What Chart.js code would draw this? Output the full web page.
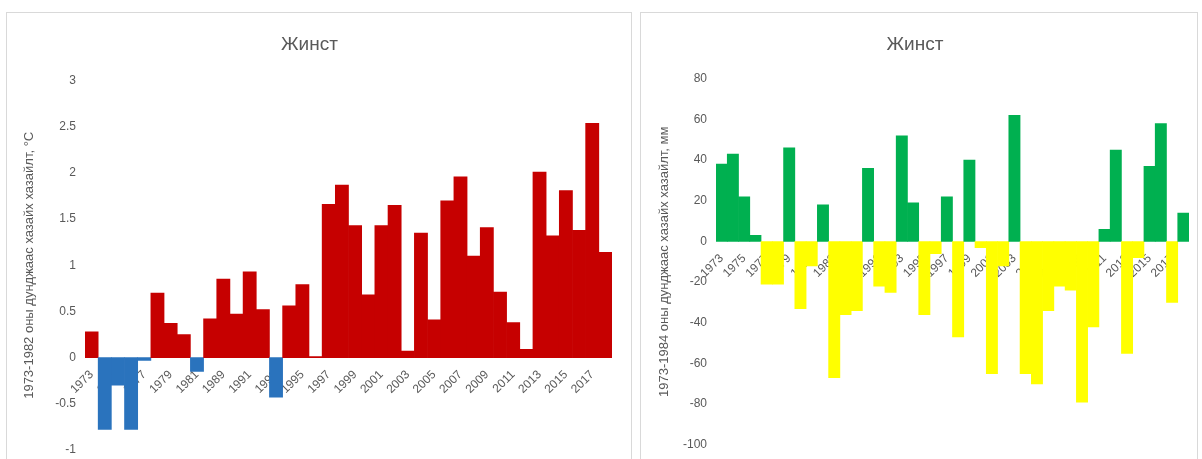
<!DOCTYPE html>
<html>
<head>
<meta charset="utf-8">
<script src="https://cdn.jsdelivr.net/npm/chart.js@4"></script>
<style>
  body { margin: 0; background: #fff; width: 1202px; height: 459px; overflow: hidden; position: relative; }
  .panel { position: absolute; border: 1px solid #d9d9d9; background: #fff; overflow: hidden; }
  #p1 { left: 6px; top: 12px; width: 624px; height: 460px; }
  #p2 { left: 640px; top: 12px; width: 556px; height: 460px; }
  canvas { position: absolute; left: 0; top: 0; }
</style>
</head>
<body>
<div class="panel" id="p1"><canvas id="tempChart" width="624" height="453"></canvas></div>
<div class="panel" id="p2"><canvas id="precChart" width="556" height="448"></canvas></div>
<script>
// temperature deviation from 1973-1982 mean, °C
const tempYears = ['1973','1974','1975','1976','1977','1978','1979','1980','1981','1982',
  '1989','1990','1991','1992','1993','1994','1995','1996','1997','1998','1999','2000',
  '2001','2002','2003','2004','2005','2006','2007','2008','2009','2010','2011','2012',
  '2013','2014','2015','2016','2017','2018']
const tempDev = [0.28, -0.78, -0.3, -0.78, -0.03, 0.7, 0.37, 0.25, -0.15, 0.42,
  0.85, 0.47, 0.93, 0.52, -0.43, 0.56, 0.79, 0.01, 1.66, 1.87, 1.43, 0.68,
  1.43, 1.65, 0.07, 1.35, 0.41, 1.7, 1.96, 1.1, 1.41, 0.71, 0.38, 0.09,
  2.01, 1.32, 1.81, 1.38, 2.54, 1.14]
const tempTicks = [-1, -0.5, 0, 0.5, 1, 1.5, 2, 2.5, 3]

// precipitation deviation from 1973-1984 mean, mm
const precYears = ['1973','1974','1975','1976','1977','1978','1979','1980','1981','1982','1983','1984',
  '1989','1990','1991','1992','1993','1994','1995','1996','1997','1998','1999','2000',
  '2001','2002','2003','2004','2005','2006','2007','2008','2009','2010','2011','2012',
  '2013','2014','2015','2016','2017','2018']
const precDev = [38, 43, 22, 3, -21, -21, 46, -33, -12, 18, -67, -36,
  -34, 36, -22, -25, 52, 19, -36, -6, 22, -47, 40, -3,
  -65, -12, 62, -65, -70, -34, -22, -24, -79, -42, 6, 45,
  -55, -8, 37, 58, -30, 14]
const precTicks = [-100, -80, -60, -40, -20, 0, 20, 40, 60, 80]

const grey = '#595959'
const fontFam = '"Liberation Sans", Arial, sans-serif'

const makeChart = (id, years, values, ticks, posColor, negColor, axisTitle, yWidth, pad, titlePad, axisPad) => {
  const ctx = document.getElementById(id).getContext('2d')
  return new Chart(ctx, {
    type: 'bar',
    data: {
      labels: years,
      datasets: [{
        data: values,
        backgroundColor: values.map(v => v >= 0 ? posColor : negColor),
        borderWidth: 0,
        barPercentage: 1,
        categoryPercentage: 1
      }]
    },
    options: {
      responsive: false,
      animation: false,
      layout: { padding: pad },
      plugins: {
        legend: { display: false },
        tooltip: { enabled: false },
        title: {
          display: true,
          text: 'Жинст',
          color: grey,
          font: { family: fontFam, size: 19, weight: 'normal' },
          padding: titlePad
        }
      },
      scales: {
        x: {
          position: { y: 0 },
          offset: true,
          grid: { display: false },
          border: { display: false },
          ticks: {
            autoSkip: false,
            minRotation: 45,
            maxRotation: 45,
            color: grey,
            font: { family: fontFam, size: 12 },
            padding: 2,
            callback: (v, i) => i % 2 === 0 ? years[i] : ''
          },
          afterFit: s => { s.height = 0 }
        },
        y: {
          min: ticks[0],
          max: ticks[ticks.length - 1],
          grid: { display: false, drawTicks: false },
          border: { display: false },
          ticks: {
            stepSize: ticks[1] - ticks[0],
            color: grey,
            padding: 9,
            font: { family: fontFam, size: 12 },
            callback: v => String(v)
          },
          title: {
            display: true,
            text: axisTitle,
            color: grey,
            font: { family: fontFam, size: 13 },
            padding: { top: axisPad, bottom: 0 }
          },
          afterFit: s => { s.width = yWidth }
        }
      }
    }
  })
}

makeChart('tempChart', tempYears, tempDev, tempTicks, '#c60000', '#2a73bd',
  '1973-1982 оны дунджаас хазайх хазайлт, °C', 78,
  { left: 0, right: 19, bottom: 0 }, { top: 20, bottom: 25 }, 15)
makeChart('precChart', precYears, precDev, precTicks, '#00b050', '#ffff00',
  '1973-1984 оны дунджаас хазайх хазайлт, мм', 75,
  { left: 0, right: 8, bottom: 11 }, { top: 20, bottom: 23 }, 16)
</script>
</body>
</html>
